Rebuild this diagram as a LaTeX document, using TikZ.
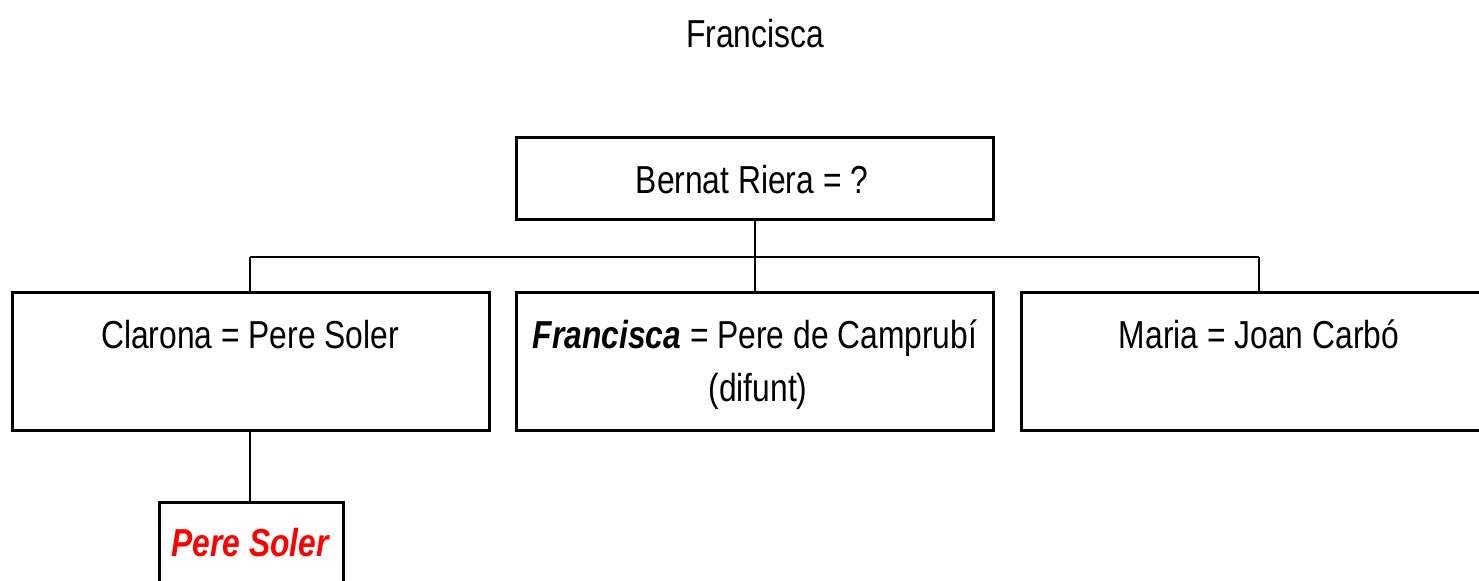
\documentclass[tikz,border=0pt]{standalone}
\usepackage{fontspec}
\setmainfont{Liberation Sans}[FakeStretch=0.815]
\begin{document}
\begin{tikzpicture}[x=0.5pt,y=-0.5pt,
  box/.style={draw=black,line width=1.5pt},
  conn/.style={draw=black,line width=1pt},
  txt/.style={inner sep=0pt,anchor=base,font=\fontsize{19.5}{26.5}\selectfont}]
\clip (0,0) rectangle (1479,580);
\fill[white] (0,0) rectangle (1479,580);
% boxes
\draw[box] (516,137) rectangle (993,219);
\coordinate (topB) at (755,219);
\draw[box] (12,292) rectangle (489,430);
\draw[box] (516,292) rectangle (993,430);
\draw[box] (1021,292) rectangle (1500,430);
\draw[box] (159,502) rectangle (343,600);
% coordinates for connectors
\coordinate (bar) at (755,257);
\coordinate (barL) at (250,257);
\coordinate (barR) at (1259,257);
\coordinate (leftT) at (250,292);
\coordinate (midT) at (755,292);
\coordinate (rightT) at (1259,292);
\coordinate (leftB) at (250,430);
\coordinate (soleT) at (250,502);
\draw[conn] (topB) -- (midT);
\draw[conn] (barL) -- (barR);
\draw[conn] (barL) -- (leftT);
\draw[conn] (barR) -- (rightT);
\draw[conn] (leftB) -- (soleT);
% texts
\node[txt] (title) at (755,47) {Francisca};
\node[txt] (bernat) at (752,193) {Bernat Riera = ?};
\node[txt] (clarona) at (250,348) {Clarona = Pere Soler};
\node[txt] (franc) at (755,348) {\textbf{\textit{Francisca}} = Pere de Camprubí};
\node[txt] (difunt) at (758,401) {(difunt)};
\node[txt] (maria) at (1259,348) {Maria = Joan Carbó};
\node[txt,text=red] (pere) at (251,556) {\textbf{\textit{Pere Soler}}};
\end{tikzpicture}
\end{document}
